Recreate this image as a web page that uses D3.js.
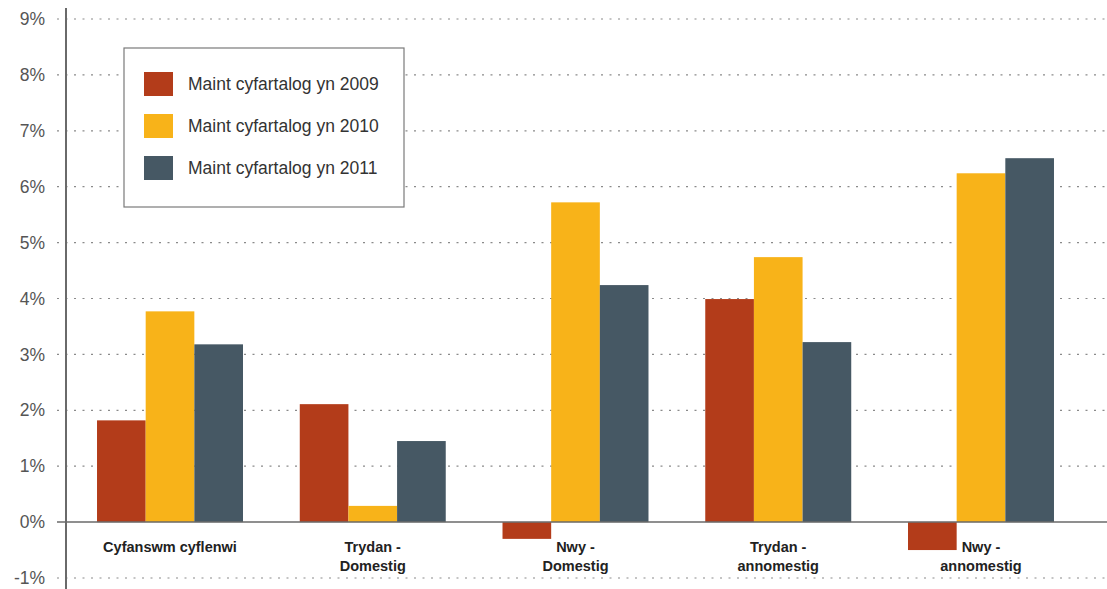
<!DOCTYPE html>
<html><head><meta charset="utf-8">
<script src="https://cdn.jsdelivr.net/npm/d3@7"></script>
<style>body{margin:0;background:#fff}svg{display:block;font-family:"Liberation Sans",Arial,sans-serif}</style>
</head><body><svg id="c" width="1107" height="589"></svg>
<script>
const categories = [["Cyfanswm cyflenwi"],["Trydan -","Domestig"],["Nwy -","Domestig"],["Trydan -","annomestig"],["Nwy -","annomestig"]];
const seriesNames = ["Maint cyfartalog yn 2009","Maint cyfartalog yn 2010","Maint cyfartalog yn 2011"];
const values2009 = [1.82, 2.11, -0.30, 3.99, -0.50];
const values2010 = [3.77, 0.29, 5.72, 4.74, 6.24];
const values2011 = [3.18, 1.45, 4.24, 3.22, 6.51];
const colors = ["#B33C1A","#F8B319","#465864"];
const yTicks = [-1,0,1,2,3,4,5,6,7,8,9];

const series = [values2009, values2010, values2011];
const svg = d3.select("#c");
const y = d3.scaleLinear().domain([-1, 9]).range([578, 19]);
const x0 = d3.scaleBand().domain(d3.range(categories.length)).range([66, 1085]).paddingInner(0.28).paddingOuter(0.153);
const x1 = d3.scaleBand().domain(d3.range(series.length)).range([0, x0.bandwidth()]);

// grid lines
svg.append("g").selectAll("line").data(yTicks.filter(t=>t!==0)).join("line")
  .attr("x1", 57).attr("x2", 1107).attr("y1", d=>y(d)).attr("y2", d=>y(d))
  .attr("stroke", "#8a8a8a").attr("stroke-width", 1.2).attr("stroke-dasharray", "2,6.5");

// y axis labels via d3 axis
const yAxis = d3.axisLeft(y).tickValues(yTicks).tickFormat(d=>d+"%").tickSize(0).tickPadding(0);
const ga = svg.append("g").attr("transform","translate(45,0)").call(yAxis);
ga.select(".domain").remove();
ga.selectAll("text").attr("font-size", 17.5).attr("fill", "#555").attr("font-family", "Liberation Sans, Arial, sans-serif");

// bars
const groups = svg.append("g").selectAll("g").data(categories).join("g")
  .attr("transform", (d,i)=>`translate(${x0(i)},0)`);
groups.selectAll("rect").data((d,i)=>series.map((s,j)=>({v:s[i], j}))).join("rect")
  .attr("x", d=>x1(d.j)).attr("width", x1.bandwidth())
  .attr("y", d=>y(Math.max(0,d.v))).attr("height", d=>Math.abs(y(d.v)-y(0)))
  .attr("fill", d=>colors[d.j]);

// zero line
svg.append("line").attr("x1", 57).attr("x2", 1107).attr("y1", y(0)).attr("y2", y(0))
  .attr("stroke", "#6a6a6a").attr("stroke-width", 1.5);
// axis line
svg.append("line").attr("x1", 66).attr("x2", 66).attr("y1", 8).attr("y2", 589)
  .attr("stroke", "#6a6a6a").attr("stroke-width", 2);

// category labels
groups.each(function(lines, i){
  const g = d3.select(this);
  const t = g.append("text").attr("text-anchor","middle").attr("font-size", 14.5).attr("font-weight","bold").attr("fill","#222");
  lines.forEach((l,k)=>{
    t.append("tspan").attr("x", x0.bandwidth()/2).attr("y", 552 + k*19).text(l);
  });
});

// legend
const lg = svg.append("g");
lg.append("rect").attr("x",124).attr("y",48).attr("width",280).attr("height",159)
  .attr("fill","#fff").attr("stroke","#7a7a7a").attr("stroke-width",1.2);
seriesNames.forEach((n,i)=>{
  lg.append("rect").attr("x",144).attr("y",72+i*42).attr("width",29).attr("height",24).attr("fill",colors[i]);
  lg.append("text").attr("x",188).attr("y",90+i*42).attr("font-size",17.5).attr("fill","#333").text(n);
});
</script></body></html>
